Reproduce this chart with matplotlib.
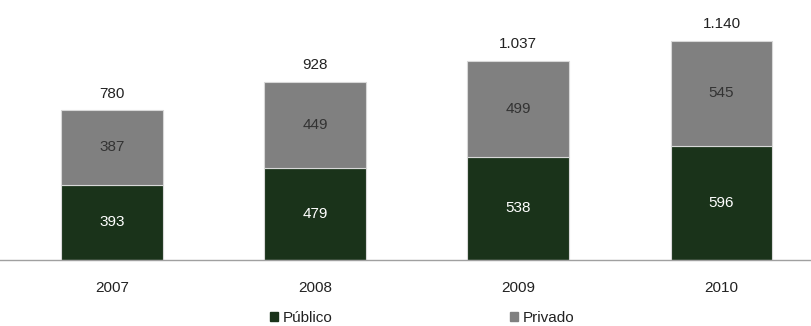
import matplotlib.pyplot as plt
from matplotlib.patches import Patch

plt.rcParams['font.family'] = ['Liberation Sans', 'DejaVu Sans']

years = ['2007', '2008', '2009', '2010']
publico = [393, 479, 538, 596]
privado = [387, 449, 499, 545]
totais = ['780', '928', '1.037', '1.140']

verde = '#1a331a'
cinza = '#808080'
fs = 11

fig = plt.figure(figsize=(8.11, 3.26), dpi=100)
ax = fig.add_axes([0, 66 / 326, 1, 260 / 326])

x = range(len(years))
ax.bar(x, publico, width=0.5, color=verde, edgecolor='#d8d8d8', linewidth=0.8)
ax.bar(x, privado, width=0.5, bottom=publico, color=cinza, edgecolor='#d8d8d8', linewidth=0.8)

for i in x:
    ax.text(i, publico[i] / 2, str(publico[i]), ha='center', va='center', color='white', fontsize=fs)
    ax.text(i, publico[i] + privado[i] / 2, str(privado[i]), ha='center', va='center', color='#333333', fontsize=fs)
    ax.text(i, publico[i] + privado[i] + 86, totais[i], ha='center', va='center', color='#222222', fontsize=fs)

ax.set_xlim(-0.55, 3.44)
ax.set_ylim(0, 1354)
ax.set_xticks(list(x))
ax.set_xticklabels(years, fontsize=fs, color='#222222')
ax.tick_params(axis='x', length=0, pad=15)
ax.set_yticks([])
for s in ['top', 'right', 'left']:
    ax.spines[s].set_visible(False)
ax.spines['bottom'].set_color('#a0a0a0')
ax.spines['bottom'].set_linewidth(1)

handles = [Patch(color=verde, label='Público'), Patch(color=cinza, label='Privado')]
leg = fig.legend(handles=handles, loc='center', bbox_to_anchor=(422 / 811, 1 - 318 / 326), ncol=2,
                 frameon=False, fontsize=fs, handlelength=0.55, handleheight=0.55, handletextpad=0.3,
                 columnspacing=11.6)
for t in leg.get_texts():
    t.set_color('#222222')

fig.savefig('out.png', dpi=100)
